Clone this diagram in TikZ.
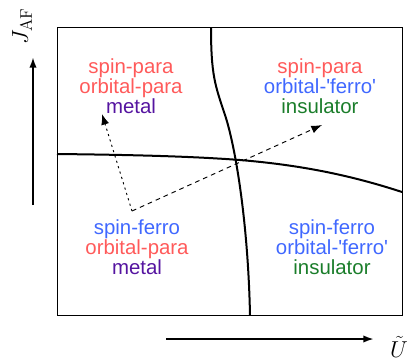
\documentclass[tikz,border=0pt]{standalone}
\usepackage{fontspec}
\setsansfont{Liberation Sans}
\usepackage{tikz}
\usetikzlibrary{arrows.meta}
\definecolor{parared}{HTML}{FF5A5A}
\definecolor{ferroblue}{HTML}{4068FF}
\definecolor{metalpurple}{HTML}{5514A0}
\definecolor{insulgreen}{HTML}{1A7D2A}

\begin{document}
\begin{tikzpicture}[x=.75pt,y=-.75pt,
 phase/.style={align=center,font=\sffamily\fontsize{15.3}{15}\selectfont,inner sep=0pt},
 border/.style={line width=1.5pt},
 axis/.style={line width=1.5pt,-{Latex[length=8pt,width=5.5pt]}},
 dotpath/.style={line width=.7pt,dash pattern=on 1.6pt off 2.6pt,-{Latex[length=8pt,width=6pt]}},
 dashpath/.style={line width=.7pt,dash pattern=on 3.5pt off 3pt,-{Latex[length=8pt,width=6pt]}}]
 \useasboundingbox(0,0)rectangle(410,362);
 \draw[line width=.75pt](57,27)rectangle(402,315);
 % phase boundaries
 \draw[border](211,27)..controls(211,75)and(215,85)..(225,115)..controls(235,145)and(248,220)..(250,315);
 \draw[border](57,154)..controls(150,155)and(200,157)..(240,160)..controls(300,165)and(350,175)..(402,192);
 % phases
 \node[phase](tl)at(131,86){\color{parared}spin-para\\\color{parared}orbital-para\\\color{metalpurple}metal};
 \node[phase](tr)at(320,86){\color{parared}spin-para\\\color{ferroblue}orbital-\textquotesingle ferro\textquotesingle\\\color{insulgreen}insulator};
 \node[phase](bl)at(137,247){\color{ferroblue}spin-ferro\\\color{parared}orbital-para\\\color{metalpurple}metal};
 \node[phase](br)at(332,247){\color{ferroblue}spin-ferro\\\color{ferroblue}orbital-\textquotesingle ferro\textquotesingle\\\color{insulgreen}insulator};
 % paths out of the spin-ferro metal
 \coordinate(start)at(132,211);
 \coordinate(toleft)at(102,114);
 \coordinate(toright)at(322,125);
 \draw[dotpath](start)--(toleft);
 \draw[dashpath](start)--(toright);
 % axes
 \coordinate(ja)at(33,205);\coordinate(jb)at(33,57);
 \coordinate(ua)at(166,339);\coordinate(ub)at(374,339);
 \draw[axis](ja)--(jb);
 \draw[axis](ua)--(ub);
 \node[rotate=90,font=\fontsize{18}{18}\selectfont,inner sep=0pt](jlabel)at(22,26){$J_{\mathrm{AF}}$};
 \node[font=\fontsize{18}{18}\selectfont,inner sep=0pt](ulabel)at(399,347){$\tilde{U}$};
\end{tikzpicture}
\end{document}
